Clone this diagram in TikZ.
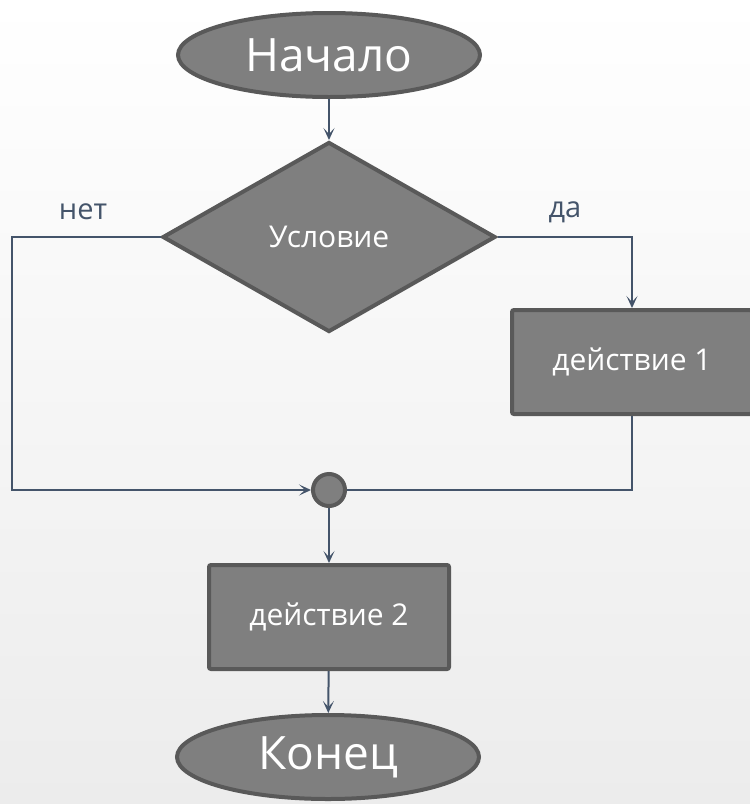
\documentclass[tikz,border=0pt]{standalone}
\usepackage{fontspec}
\setmainfont{Open Sans}
\definecolor{shapefill}{RGB}{127, 127, 127}
\definecolor{shapeline}{RGB}{89, 89, 89}
\definecolor{linkblue}{RGB}{68, 84, 106}
\definecolor{bgbottom}{RGB}{236, 236, 236}
\usetikzlibrary{shapes.geometric, arrows.meta, positioning, calc}

\begin{document}
\begin{tikzpicture}[
  x=1pt, y=-1pt,
  block/.style={draw=shapeline, fill=shapefill, line width=4pt, text=white, inner sep=0pt, font=\fontsize{30}{34}\selectfont},
  terminal/.style={block, ellipse, minimum width=302pt, minimum height=84pt, font=\fontsize{46}{50}\selectfont},
  decision/.style={block, diamond, minimum width=333pt, minimum height=190pt},
  actbox/.style={block, rectangle, rounded corners=2pt, minimum width=240pt, minimum height=104pt},
  joint/.style={block, circle, minimum size=32pt},
  link/.style={draw=linkblue, line width=2pt},
  arrow/.style={link, -{Stealth[length=12pt, width=11pt, inset=6pt]}},
  branch/.style={text=linkblue, font=\fontsize{29}{33}\selectfont},
]
  % background
  \shade[top color=white, middle color=white!97!black, bottom color=bgbottom] (0,0) rectangle (750,804);
  \useasboundingbox (0,0) rectangle (750,804);

  \node[terminal] (start) at (329,55) {Начало};
  \node[decision] (cond) at (329,237) {Условие};
  \node[actbox] (act1) at (632,362) {действие 1};
  \node[joint] (join) at (329,490) {};
  \node[actbox] (act2) at (329,617) {действие 2};
  \node[terminal] (stop) at (328,757) {Конец};

  \node[branch] (nolabel) at (83,212) {нет};
  \node[branch] (yeslabel) at (565,212) {да};
  \coordinate (noturn) at (12,237);

  \draw[arrow] (start) -- (cond);
  \draw[arrow] (cond.east) -| (act1.north);
  \draw[arrow] (cond.west) -- (noturn) |- (join.west);
  \draw[link] (act1.south) |- (join.east);
  \draw[arrow] (join) -- (act2);
  \draw[arrow] (act2) -- (stop);
\end{tikzpicture}
\end{document}
